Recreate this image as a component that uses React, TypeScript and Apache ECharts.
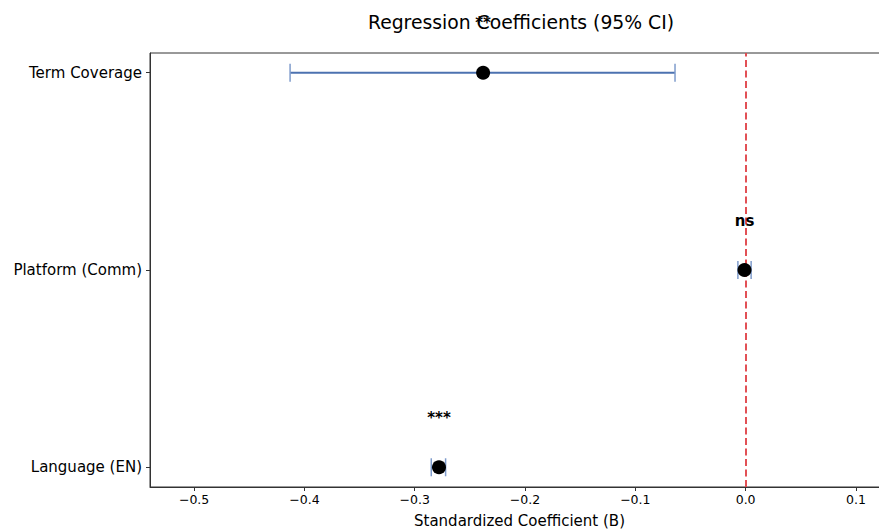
import React, { useEffect, useRef } from "react";
import * as echarts from "echarts";

const categories = ["Language (EN)", "Platform (Comm)", "Term Coverage"];
const coefficients = [-0.278, -0.001, -0.238];
const ciLow = [-0.285, -0.007, -0.413];
const ciHigh = [-0.272, 0.005, -0.064];
const significance = ["***", "ns", "**"];
const xTicks = [-0.5, -0.4, -0.3, -0.2, -0.1, 0.0, 0.1];

const FONT = "DejaVu Sans";

export default function App() {
  const ref = useRef<HTMLDivElement>(null);
  useEffect(() => {
    if (!ref.current) return;
    const chart = echarts.init(ref.current, null, { renderer: "svg" });
    const errData = categories.map((_, i) => [ciLow[i], ciHigh[i], i]);
    const pointData = categories.map((_, i) => [coefficients[i], i]);
    const annData = categories.map((_, i) => [coefficients[i], i + 0.25, significance[i]]);
    chart.setOption({
      animation: false,
      backgroundColor: "#ffffff",
      title: {
        text: "Regression Coefficients (95% CI)",
        left: 516,
        textAlign: "center",
        top: 8,
        z: 1,
        textStyle: { fontFamily: FONT, fontSize: 18.8, fontWeight: "normal", color: "#000" },
      },
      grid: {
        left: 150,
        right: 11,
        top: 53,
        bottom: 42,
        outerBoundsMode: "none",
        containLabel: false,
        show: true,
        borderColor: "#333",
        borderWidth: 1,
        backgroundColor: "transparent",
      },
      xAxis: {
        type: "value",
        min: -0.54,
        max: 0.13,
        name: "Standardized Coefficient (B)",
        nameLocation: "middle",
        nameGap: 26,
        nameTextStyle: { fontFamily: FONT, fontSize: 15, color: "#000" },
        splitLine: { show: false },
        axisLine: { show: true, onZero: false, lineStyle: { color: "#333", width: 1 } },
        axisTick: { show: true, length: 4, customValues: xTicks, lineStyle: { color: "#333" } },
        axisLabel: {
          customValues: xTicks,
          fontFamily: FONT,
          fontSize: 12.5,
          color: "#000",
          margin: 6,
          formatter: (v: number) => (v < 0 ? "\u2212" + Math.abs(v).toFixed(1) : v.toFixed(1)),
        },
      },
      yAxis: {
        type: "value",
        min: -0.1,
        max: 2.1,
        splitLine: { show: false },
        axisLine: { show: true, onZero: false, lineStyle: { color: "#333", width: 1 } },
        axisTick: { show: true, length: 4, customValues: [0, 1, 2], lineStyle: { color: "#333" } },
        axisLabel: {
          customValues: [0, 1, 2],
          fontFamily: FONT,
          fontSize: 15,
          color: "#000",
          margin: 8,
          formatter: (v: number) => categories[Math.round(v)] ?? "",
        },
      },
      series: [
        {
          type: "custom",
          data: errData,
          z: 3,
          renderItem: (params: any, api: any) => {
            const lo = api.coord([api.value(0), api.value(2)]);
            const hi = api.coord([api.value(1), api.value(2)]);
            const h = 9;
            return {
              type: "group",
              children: [
                {
                  type: "line",
                  shape: { x1: lo[0], y1: lo[1], x2: hi[0], y2: hi[1] },
                  style: { stroke: "#4C72B0", lineWidth: 2 },
                },
                {
                  type: "line",
                  shape: { x1: lo[0], y1: lo[1] - h, x2: lo[0], y2: lo[1] + h },
                  style: { stroke: "#7f9ccc", lineWidth: 1.5 },
                },
                {
                  type: "line",
                  shape: { x1: hi[0], y1: hi[1] - h, x2: hi[0], y2: hi[1] + h },
                  style: { stroke: "#7f9ccc", lineWidth: 1.5 },
                },
              ],
            };
          },
        },
        {
          type: "scatter",
          data: pointData,
          symbol: "circle",
          symbolSize: 14,
          itemStyle: { color: "#000", opacity: 1 },
          z: 5,
          markLine: {
            silent: true,
            symbol: "none",
            label: { show: false },
            lineStyle: { color: "#e0474c", type: [7, 3.5], width: 2, opacity: 0.95 },
            data: [{ xAxis: 0 }],
          },
        },
        {
          type: "scatter",
          data: annData,
          symbolSize: 0,
          clip: false,
          z: 6,
          itemStyle: { opacity: 1 },
          label: {
            show: true,
            position: "inside",
            formatter: (p: any) => p.data[2],
            fontFamily: FONT,
            fontSize: 15,
            fontWeight: "bold",
            color: "#000",
          },
        },
      ],
    });
    return () => chart.dispose();
  }, []);
  return (
    <div style={{ position: "fixed", left: 0, top: 0, width: 879, height: 529, overflow: "hidden", background: "#fff" }}>
      <div ref={ref} style={{ width: 900, height: 529 }} />
    </div>
  );
}
